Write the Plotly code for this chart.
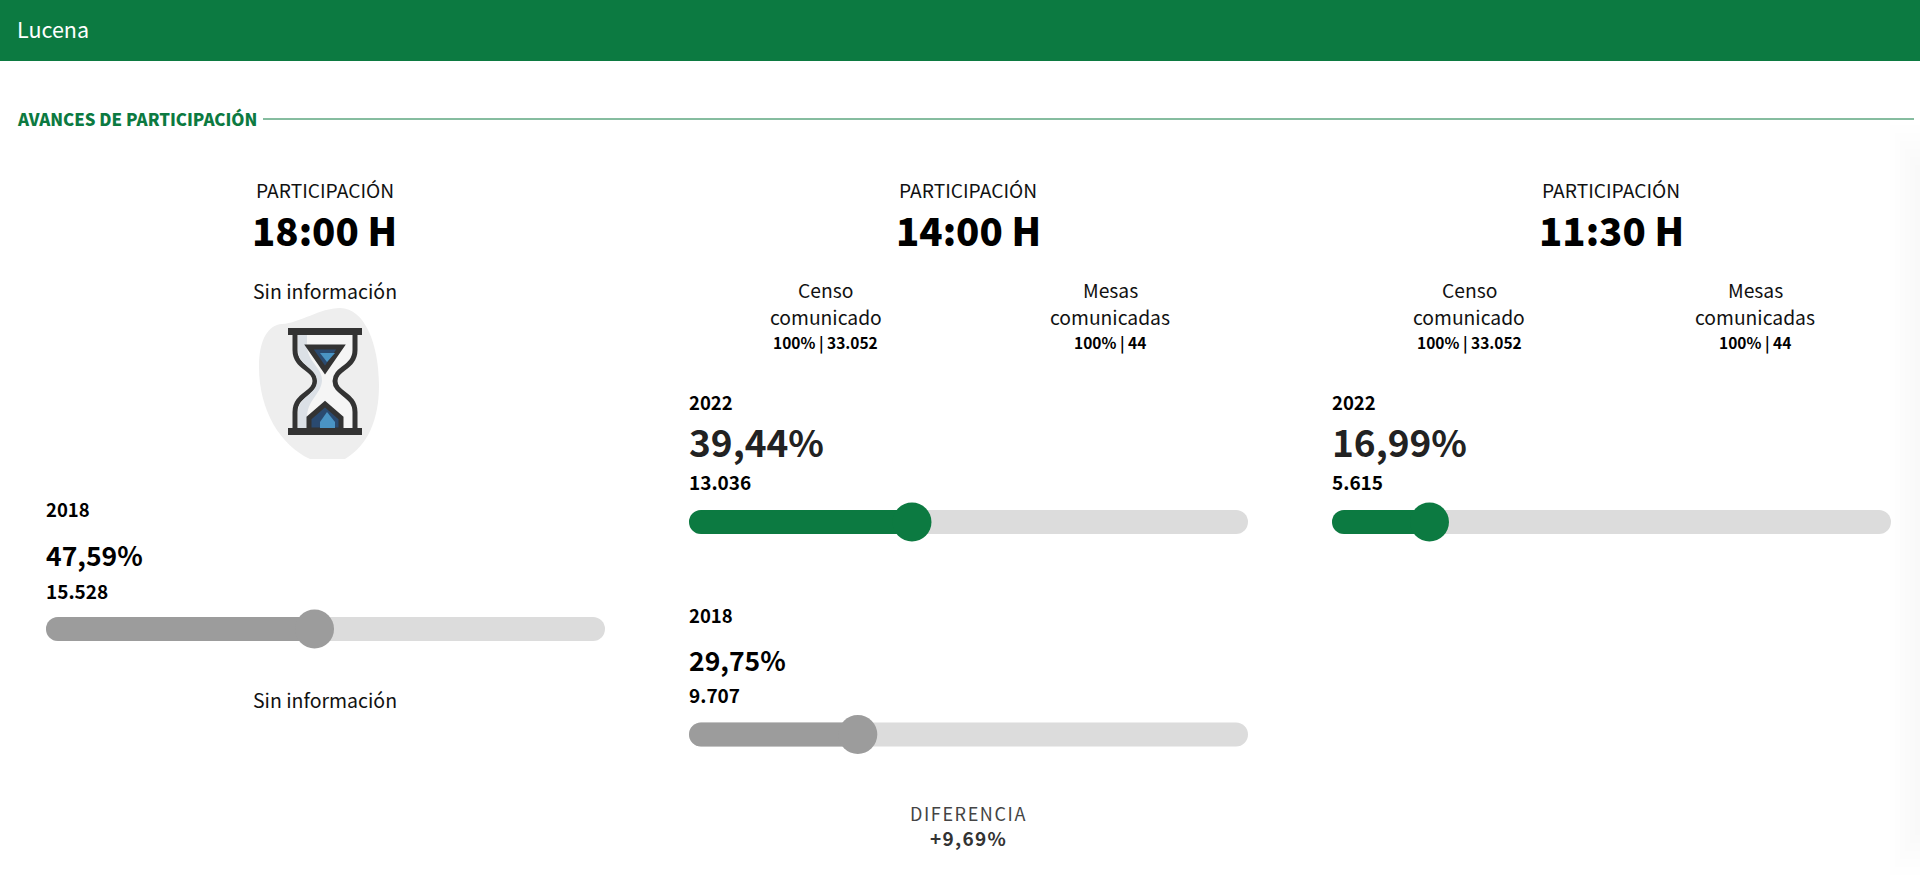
import plotly.graph_objects as go

# ---- data ----
city = "Lucena"
section_title = "AVANCES DE PARTICIPACIÓN"
panel_heading = "PARTICIPACIÓN"
panel_times = ["18:00 H", "14:00 H", "11:30 H"]
no_info = "Sin información"
censo_labels = ["Censo", "comunicado"]
mesas_labels = ["Mesas", "comunicadas"]
censo_value = "100% | 33.052"
mesas_value = "100% | 44"
slider_years = ["2018", "2022", "2018", "2022"]
slider_values = [47.59, 39.44, 29.75, 16.99]
slider_labels = ["47,59%", "39,44%", "29,75%", "16,99%"]
slider_votes = ["15.528", "13.036", "9.707", "5.615"]
diff_label = "DIFERENCIA"
diff_value = "+9,69%"

# ---- style / layout ----
W, H = 1920, 880
GREEN = "#0c7a41"
GREY = "#9c9c9c"
TRACK = "#dcdcdc"
FONT = "Noto Sans CJK SC"
col_c = [324.5, 968, 1611]
sl_left = [46, 689, 689, 1332]
sl_y = [629, 522, 734.5, 522]
sl_col = [GREY, GREEN, GREY, GREEN]
sl_w = 559
knob_off = 2.5 / sl_w * 100          # knob centre sits slightly past the value
year_y = [509, 402, 615, 402]
pct_y = [554, 441, 659, 441]
pct_sz = [26.5, 37, 26.5, 37]
pct_c = ["#000", "#222", "#000", "#222"]
votes_y = [590, 481, 694, 481]

fig = go.Figure()
ann = []


def text(s, x, y, size, color="#000", weight=400, anchor="center"):
    ann.append(dict(text=s, x=x / W, y=1 - y / H, xref="paper", yref="paper",
                    xanchor=anchor, yanchor="middle", showarrow=False,
                    font=dict(family=FONT, size=size, color=color, weight=weight)))


layout_axes = {}
for i, v in enumerate(slider_values):
    n = i + 2
    xa, ya = f"x{n}", f"y{n}"
    fig.add_trace(go.Bar(x=[100], base=0, y=[0], orientation="h", xaxis=xa, yaxis=ya, width=0.48,
                         marker=dict(color=TRACK, line_width=0), hoverinfo="skip"))
    fig.add_trace(go.Bar(x=[v], base=0, y=[0], orientation="h", xaxis=xa, yaxis=ya, width=0.48,
                         marker=dict(color=sl_col[i], line_width=0), hoverinfo="skip"))
    fig.add_trace(go.Scatter(x=[v + knob_off], y=[0], mode="markers", xaxis=xa, yaxis=ya, cliponaxis=False,
                             marker=dict(color=sl_col[i], size=39, line_width=0), hoverinfo="skip"))
    layout_axes[f"xaxis{n}"] = dict(domain=[sl_left[i] / W, (sl_left[i] + sl_w) / W], range=[0, 100],
                                    visible=False, anchor=ya, fixedrange=True)
    layout_axes[f"yaxis{n}"] = dict(domain=[1 - (sl_y[i] + 25) / H, 1 - (sl_y[i] - 25) / H], range=[-0.5, 0.5],
                                    visible=False, anchor=xa, fixedrange=True)
    text(slider_years[i], sl_left[i] - 2, year_y[i], 18.5, "#000", 700, "left")
    text(slider_labels[i], sl_left[i] - 2, pct_y[i], pct_sz[i], pct_c[i], 700, "left")
    text(slider_votes[i], sl_left[i] - 2, votes_y[i], 19, "#000", 700, "left")

# header and panel texts
text(city, 15, 28, 21.5, "#ffffff", 400, "left")
text(section_title, 14.5, 119, 16.8, GREEN, 900, "left")
for c, t in zip(col_c, panel_times):
    text(panel_heading, c, 190, 19.2, "#111")
    text(t, c, 229, 38.3, "#000", 900)
text(no_info, col_c[0], 290, 19.5, "#111")
text(no_info, col_c[0], 699, 19.5, "#111")
for cx, mx in [(825.5, 1110), (1469, 1755)]:
    for lab, ly in zip(censo_labels, [290, 317]):
        text(lab, cx, ly, 19.3, "#111")
    for lab, ly in zip(mesas_labels, [290, 317]):
        text(lab, mx, ly, 19.3, "#111")
    text(censo_value, cx, 342, 15.5, "#000", 700)
    text(mesas_value, mx, 342, 15.5, "#000", 700)
text(diff_label, col_c[1], 813, 18, "#444")
text(diff_value, col_c[1], 837, 19, "#333", 700)

DARK = "#333333"
shapes = [
    dict(type="rect", x0=0, x1=W, y0=0, y1=61, fillcolor=GREEN, line_width=0),
    dict(type="line", x0=263, x1=1914, y0=119, y1=119, line=dict(color=GREEN, width=1)),
    # blob
    dict(type="path", path="M259,367 C259,340 268,325 282,324 C300,323 320,308 340,308 C365,308 379,345 379,385 "
                           "C379,420 368,445 345,459 L310,459 C280,445 259,410 259,367 Z",
         fillcolor="#eeeeee", line_width=0),
    # glass
    dict(type="path", path="M295,331 L295,350 C295,368 315,368 315,381 C315,394 295,394 295,412 L295,432 "
                           "L355,432 L355,412 C355,394 335,394 335,381 C335,368 355,368 355,350 L355,331 Z",
         fillcolor="#f5f5f5", line=dict(color=DARK, width=5)),
    # shade
    dict(type="path", path="M298,334 L307,334 L307,345 C307,362 323,368 322,381 C321,394 307,400 307,418 L307,429 "
                           "L298,429 L298,412 C298,397 317,394 317,381 C317,368 298,366 298,350 Z",
         fillcolor="#dbe0e6", line_width=0),
    # top sand
    dict(type="path", path="M309,347 L341,347 L325,370 Z", fillcolor="#2a4a70", line=dict(color=DARK, width=5)),
    dict(type="path", path="M320,353 L335,353 L327,362 Z", fillcolor="#4a94c4", line_width=0),
    # bottom sand
    dict(type="path", path="M309,430 L309,418 L325,404 L341,418 L341,430 Z", fillcolor="#2a4a70",
         line=dict(color=DARK, width=5)),
    dict(type="path", path="M320,430 L320,422 L327,412 L335,422 L335,430 Z", fillcolor="#4a94c4", line_width=0),
    # bars of the hourglass
    dict(type="rect", x0=288, x1=362, y0=328, y1=335, fillcolor=DARK, line_width=0),
    dict(type="rect", x0=288, x1=362, y0=428, y1=435, fillcolor=DARK, line_width=0),
]
# faint shadow at the right edge
for k in range(6):
    shapes.append(dict(type="rect", x0=1890 + 5 * k, x1=W, y0=125 + 8 * k, y1=875 - 8 * k,
                       fillcolor="#000000", opacity=0.005, line_width=0))
for s in shapes:
    s.update(xref="x", yref="y", layer="below")

fig.add_trace(go.Scatter(x=[], y=[], xaxis="x", yaxis="y", hoverinfo="skip"))
fig.update_layout(
    width=W, height=H, margin=dict(l=0, r=0, t=0, b=0, pad=0), showlegend=False,
    paper_bgcolor="#ffffff", plot_bgcolor="rgba(0,0,0,0)", barmode="overlay", barcornerradius=12,
    xaxis=dict(domain=[0, 1], range=[0, W], visible=False, fixedrange=True),
    yaxis=dict(domain=[0, 1], range=[H, 0], visible=False, fixedrange=True),
    shapes=shapes, annotations=ann, **layout_axes,
)
post = """
document.body.style.margin='0';document.body.style.overflow='hidden';
document.querySelectorAll('.annotation-text').forEach(function(t){
  if(t.textContent==='DIFERENCIA'){t.style.letterSpacing='1.6px';}
  if(t.textContent==='+9,69%'){t.style.letterSpacing='1.3px';}
});
"""
fig.write_html("out.html", config={"displayModeBar": False}, post_script=post)
